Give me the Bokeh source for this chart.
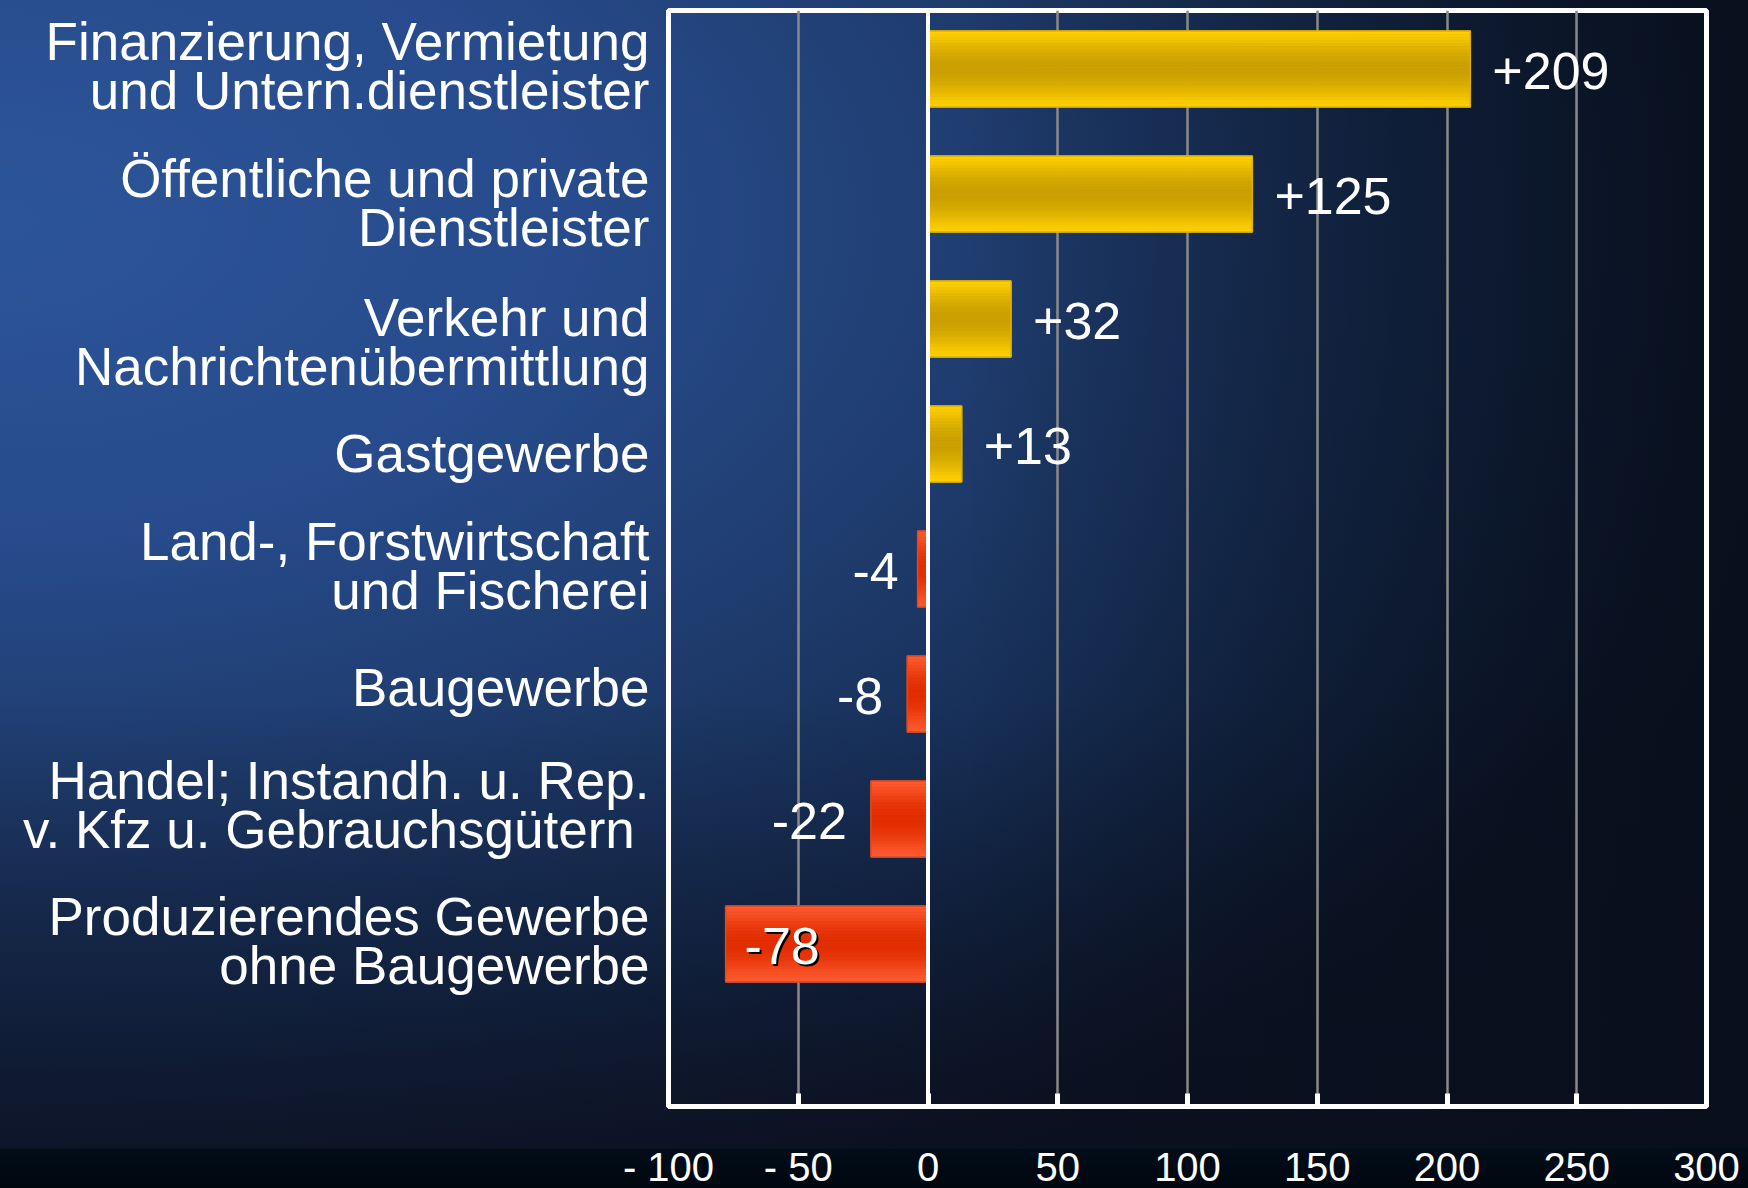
import math
from bokeh.plotting import figure
from bokeh.models import (ColumnDataSource, FixedTicker, Span, Range1d,
                          GlobalInlineStyleSheet)
from bokeh.core.properties import value
from bokeh.embed import file_html
from bokeh.resources import INLINE

# ---------------- data ----------------
CATEGORIES = [
    "Finanzierung, Vermietung\nund Untern.dienstleister",
    "Öffentliche und private\nDienstleister",
    "Verkehr und\nNachrichtenübermittlung",
    "Gastgewerbe",
    "Land-, Forstwirtschaft\nund Fischerei",
    "Baugewerbe",
    "Handel; Instandh. u. Rep.\nv. Kfz u. Gebrauchsgütern\u00a0",
    "Produzierendes Gewerbe\nohne Baugewerbe",
]
VALUES = [209, 125, 32, 13, -4, -8, -22, -78]
X_TICKS = [-100, -50, 0, 50, 100, 150, 200, 250, 300]
X_TICK_LABELS = ["- 100", "- 50", "0", "50", "100", "150", "200", "250", "300"]

# ---------------- style ----------------
FONT = "Liberation Sans"
W, H = 1748, 1200
BAR_H = 0.608
N_SLICES = 24
PX_PER_ROW = 125.0
# small vertical nudges (px, + = down) of the category labels, as in the original slide
LABEL_NUDGE_PX = [-3, 9, 23, 9, -3, -7, -14, -3]
# horizontal gap (px) between bar end and its value label
VALUE_GAP_PX = [22, 22, 22, 22, -19, -24, -24, 19]
YEL_EDGE, YEL_MID = (255, 208, 0), (203, 160, 0)
RED_EDGE, RED_MID = (255, 90, 48), (226, 46, 0)


def mix(a, b, d):
    return "#%02x%02x%02x" % tuple(round(a[k] * (1 - d) + b[k] * d) for k in range(3))


ypos = list(range(len(CATEGORIES)))
label_pos = [i + n / PX_PER_ROW for i, n in zip(ypos, LABEL_NUDGE_PX)]

# bar slices (vertical gradient look)
sl = {"y": [], "left": [], "right": [], "h": [], "color": []}
for i, v in zip(ypos, VALUES):
    edge, mid = (YEL_EDGE, YEL_MID) if v >= 0 else (RED_EDGE, RED_MID)
    for k in range(N_SLICES):
        t = (k + 0.5) / N_SLICES
        d = math.sin(math.pi * t) ** 1.3
        sl["y"].append(i - BAR_H / 2 + t * BAR_H)
        sl["left"].append(min(0, v))
        sl["right"].append(max(0, v))
        sl["h"].append(BAR_H / N_SLICES)
        sl["color"].append(mix(edge, mid, d))

# value labels
lab = {"x": [], "y": [], "text": [], "align": [], "xo": []}
shadow = {"x": [], "y": [], "text": [], "xo": []}
for i, v, gap in zip(ypos, VALUES, VALUE_GAP_PX):
    txt = f"{v:+d}"
    lab["x"].append(v)
    lab["y"].append(i)
    lab["text"].append(txt)
    lab["xo"].append(gap)
    lab["align"].append("left" if gap > 0 else "right")
    if v < 0 and gap > 0:  # label inside the bar: drop shadow
        shadow["x"].append(v); shadow["y"].append(i); shadow["text"].append(txt); shadow["xo"].append(gap + 2)

css = """
html, body { margin: 0; padding: 0; overflow: hidden; }
html {
  min-height: 100%;
  background-color: #0b1322;
  background-image:
    linear-gradient(to bottom, rgba(2,13,25,0) 1148px, #020d19 1149px, #00070f 1188px),
    linear-gradient(to right, rgba(8,14,26,0) 55%, rgba(8,14,26,0.85) 100%),
    linear-gradient(to bottom, rgba(12,14,28,0) 700px, rgba(12,14,28,0.6) 1148px, rgba(12,14,28,0.6) 1188px),
    radial-gradient(ellipse 1900px 1050px at 0px 220px, #2c5599 0%, #274b8c 30%, #1e3b6c 55%, #142a4e 78%, #0b1527 100%);
  background-repeat: no-repeat;
}
body { background: transparent; }
"""

p = figure(width=W, height=H, output_backend="svg", toolbar_location=None,
           x_range=Range1d(-100, 300), y_range=Range1d(8.30, -0.468),
           min_border_left=668, min_border_right=42, min_border_top=10, min_border_bottom=94)
p.stylesheets = [GlobalInlineStyleSheet(css=css)]
p.background_fill_alpha = 0
p.border_fill_alpha = 0
p.outline_line_color = "white"
p.outline_line_width = 5

p.xgrid.ticker = FixedTicker(ticks=X_TICKS)
p.xgrid.grid_line_color = "#8a8a8a"
p.xgrid.grid_line_width = 2.5
p.ygrid.grid_line_color = None

xa = p.xaxis[0]
xa.ticker = FixedTicker(ticks=X_TICKS)
xa.major_label_overrides = {t: s for t, s in zip(X_TICKS, X_TICK_LABELS)}
xa.axis_line_color = None
xa.major_tick_in = 13
xa.major_tick_out = 0
xa.major_tick_line_color = "white"
xa.major_tick_line_width = 5
xa.minor_tick_line_color = None
xa.major_label_text_font = FONT
xa.major_label_text_font_size = "40px"
xa.major_label_text_color = "white"
xa.major_label_standoff = 38

ya = p.yaxis[0]
ya.ticker = FixedTicker(ticks=label_pos)
ya.major_label_overrides = {y: c for y, c in zip(label_pos, CATEGORIES)}
ya.axis_line_color = None
ya.major_tick_line_color = None
ya.minor_tick_line_color = None
ya.major_label_text_font = FONT
ya.major_label_text_font_size = "53px"
ya.major_label_text_color = "white"
ya.major_label_text_line_height = 0.845
ya.major_label_standoff = 13

p.hbar(y="y", left="left", right="right", height="h", fill_color="color",
       line_color="color", line_width=1, source=ColumnDataSource(sl))
p.hbar(y=ypos, left=[min(0, v) for v in VALUES], right=[max(0, v) for v in VALUES],
       height=BAR_H, fill_color=None,
       line_color=["#e0b000" if v >= 0 else "#d84a28" for v in VALUES], line_width=1.5)

p.add_layout(Span(location=0, dimension="height", line_color="white", line_width=4))

p.text(x="x", y="y", text="text", x_offset="xo", y_offset=4, text_align="left",
       text_baseline="middle", text_font=value(FONT), text_font_size="52px",
       text_color="black", source=ColumnDataSource(shadow))
p.text(x="x", y="y", text="text", x_offset="xo", y_offset=2, text_align="align",
       text_baseline="middle", text_font=value(FONT), text_font_size="52px",
       text_color="white", source=ColumnDataSource(lab))

open("out.html", "w").write(file_html(p, INLINE))
